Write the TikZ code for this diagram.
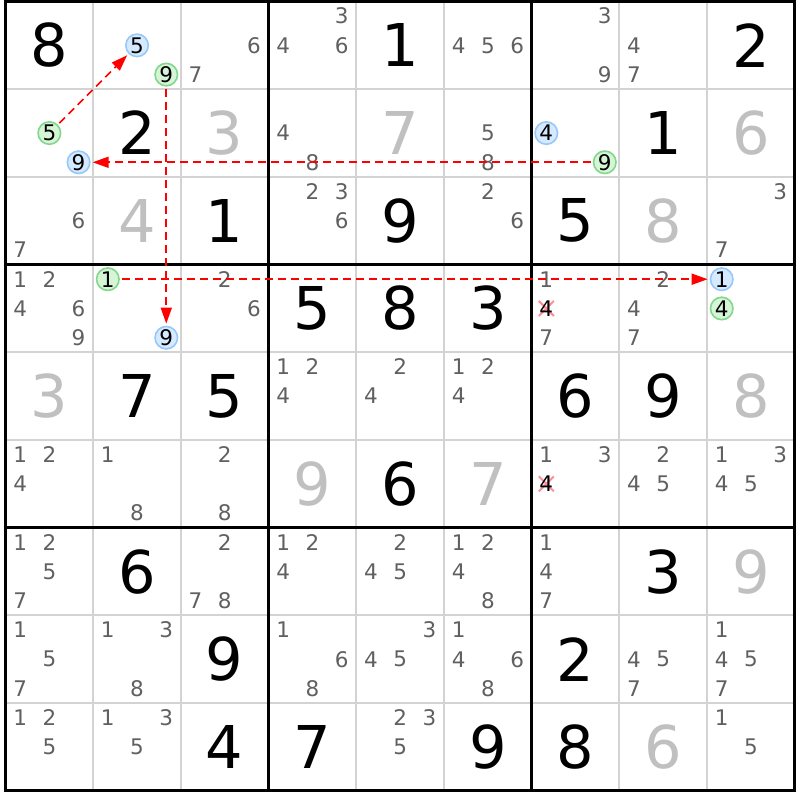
\documentclass[tikz,border=0pt]{standalone}
\usepackage{fontspec}
\setmainfont{DejaVu Sans}
\usetikzlibrary{arrows.meta}
\definecolor{thingray}{RGB}{211,211,211}
\definecolor{candgray}{RGB}{96,96,96}
\definecolor{solvedgray}{RGB}{192,192,192}
\definecolor{bluefill}{RGB}{214,234,255}
\definecolor{bluedraw}{RGB}{150,200,250}
\definecolor{greenfill}{RGB}{214,245,214}
\definecolor{greendraw}{RGB}{130,215,140}
\definecolor{xpink}{RGB}{255,140,150}
\tikzset{
  given/.style={font=\fontsize{59}{59}\selectfont, text=black, inner sep=0pt},
  solved/.style={given, text=solvedgray},
  cand/.style={font=\fontsize{21.5}{21.5}\selectfont, text=candgray, inner sep=0pt},
  bluec/.style={cand, text=black, circle, fill=bluefill, draw=bluedraw, line width=1.6pt, minimum size=22.5pt},
  greenc/.style={cand, text=black, circle, fill=greenfill, draw=greendraw, line width=1.6pt, minimum size=22.5pt},
  link/.style={red, line width=1.6pt, dash pattern=on 8pt off 5pt, -{Triangle[length=16pt,width=11pt]}, shorten >=2pt, shorten <=2pt},
  thinline/.style={thingray, line width=2pt},
  thickline/.style={black, line width=3pt},
  xmark/.style={xpink, line width=2pt},
}
\newcommand\cellxy[2]{\pgfmathsetmacro\cx{5.5+(#2-0.5)*87.7}\pgfmathsetmacro\cy{1.5+(#1-0.5)*87.7}}
\newcommand\bigd[4]{\cellxy{#2}{#3}\node[#1] (d#2#3) at (\cx,\cy) {#4};}
\newcommand\candpos[3]{\pgfmathsetmacro\px{5.5+(#2-1)*87.7+(mod(#3-1,3)+0.5)*87.7/3}\pgfmathsetmacro\py{1.5+(#1-1)*87.7+(floor((#3-1)/3)+0.5)*87.7/3}}
\newcommand\cands[3]{\foreach \d in {#3}{\candpos{#1}{#2}{\d}\node[cand] (c#1#2\d) at (\px,\py) {\d};}}
\newcommand\ccand[5]{\candpos{#1}{#2}{#3}\node[#4] (#5) at (\px,\py) {#3};}
\newcommand\xcand[3]{\candpos{#1}{#2}{#3}\draw[xmark] (\px-7.5,\py-7.5) -- (\px+7.5,\py+7.5) (\px-7.5,\py+7.5) -- (\px+7.5,\py-7.5);\node[cand,text=black] (x#1#2#3) at (\px,\py) {#3};}
\begin{document}
\begin{tikzpicture}[x=1pt,y=-1pt]
\useasboundingbox[fill=white] (0,0) rectangle (800,800);
% grid
\foreach \i in {1,2,4,5,7,8}{
  \draw[thinline] (5.5+\i*87.7,1.5) -- (5.5+\i*87.7,790.8);
  \draw[thinline] (5.5,1.5+\i*87.7) -- (794.8,1.5+\i*87.7);
}
\foreach \i in {3,6}{
  \draw[thickline] (5.5+\i*87.7,1.5) -- (5.5+\i*87.7,790.8);
  \draw[thickline] (5.5,1.5+\i*87.7) -- (794.8,1.5+\i*87.7);
}
\draw[thickline] (5.5,1.5) rectangle (794.8,790.8);
% given digits
\bigd{given}{1}{1}{8}\bigd{given}{1}{5}{1}\bigd{given}{1}{9}{2}
\bigd{given}{2}{2}{2}\bigd{given}{2}{8}{1}
\bigd{given}{3}{3}{1}\bigd{given}{3}{5}{9}\bigd{given}{3}{7}{5}
\bigd{given}{4}{4}{5}\bigd{given}{4}{5}{8}\bigd{given}{4}{6}{3}
\bigd{given}{5}{2}{7}\bigd{given}{5}{3}{5}\bigd{given}{5}{7}{6}\bigd{given}{5}{8}{9}
\bigd{given}{6}{5}{6}
\bigd{given}{7}{2}{6}\bigd{given}{7}{8}{3}
\bigd{given}{8}{3}{9}\bigd{given}{8}{7}{2}
\bigd{given}{9}{3}{4}\bigd{given}{9}{4}{7}\bigd{given}{9}{6}{9}\bigd{given}{9}{7}{8}
% solved digits
\bigd{solved}{2}{3}{3}\bigd{solved}{2}{5}{7}\bigd{solved}{2}{9}{6}
\bigd{solved}{3}{2}{4}\bigd{solved}{3}{8}{8}
\bigd{solved}{5}{1}{3}\bigd{solved}{5}{9}{8}
\bigd{solved}{6}{4}{9}\bigd{solved}{6}{6}{7}
\bigd{solved}{7}{9}{9}\bigd{solved}{9}{8}{6}
% candidates
\cands{1}{3}{6,7}\cands{1}{4}{3,4,6}\cands{1}{6}{4,5,6}\cands{1}{7}{3,9}\cands{1}{8}{4,7}
\cands{2}{4}{4,8}\cands{2}{6}{5,8}
\cands{3}{1}{6,7}\cands{3}{4}{2,3,6}\cands{3}{6}{2,6}\cands{3}{9}{3,7}
\cands{4}{1}{1,2,4,6,9}\cands{4}{3}{2,6}\cands{4}{7}{1,7}\cands{4}{8}{2,4,7}
\cands{5}{4}{1,2,4}\cands{5}{5}{2,4}\cands{5}{6}{1,2,4}
\cands{6}{1}{1,2,4}\cands{6}{2}{1,8}\cands{6}{3}{2,8}\cands{6}{7}{1,3}\cands{6}{8}{2,4,5}\cands{6}{9}{1,3,4,5}
\cands{7}{1}{1,2,5,7}\cands{7}{3}{2,7,8}\cands{7}{4}{1,2,4}\cands{7}{5}{2,4,5}\cands{7}{6}{1,2,4,8}\cands{7}{7}{1,4,7}
\cands{8}{1}{1,5,7}\cands{8}{2}{1,3,8}\cands{8}{4}{1,6,8}\cands{8}{5}{3,4,5}\cands{8}{6}{1,4,6,8}\cands{8}{8}{4,5,7}\cands{8}{9}{1,4,5,7}
\cands{9}{1}{1,2,5}\cands{9}{2}{1,3,5}\cands{9}{5}{2,3,5}\cands{9}{9}{1,5}
% eliminated candidates
\xcand{4}{7}{4}\xcand{6}{7}{4}
% highlighted candidates
\ccand{1}{2}{5}{bluec}{bfive}
\ccand{1}{2}{9}{greenc}{gnineA}
\ccand{2}{1}{5}{greenc}{gfive}
\ccand{2}{1}{9}{bluec}{bnineB}
\ccand{2}{7}{4}{bluec}{bfour}
\ccand{2}{7}{9}{greenc}{gnineB}
\ccand{4}{2}{1}{greenc}{gone}
\ccand{4}{2}{9}{bluec}{bnineA}
\ccand{4}{9}{1}{bluec}{bone}
\ccand{4}{9}{4}{greenc}{gfour}
% links
\draw[link] (gfive) -- (bfive);
\draw[link] (gnineA) -- (bnineA);
\draw[link] (gnineB) -- (bnineB);
\draw[link] (gone) -- (bone);
\end{tikzpicture}
\end{document}
